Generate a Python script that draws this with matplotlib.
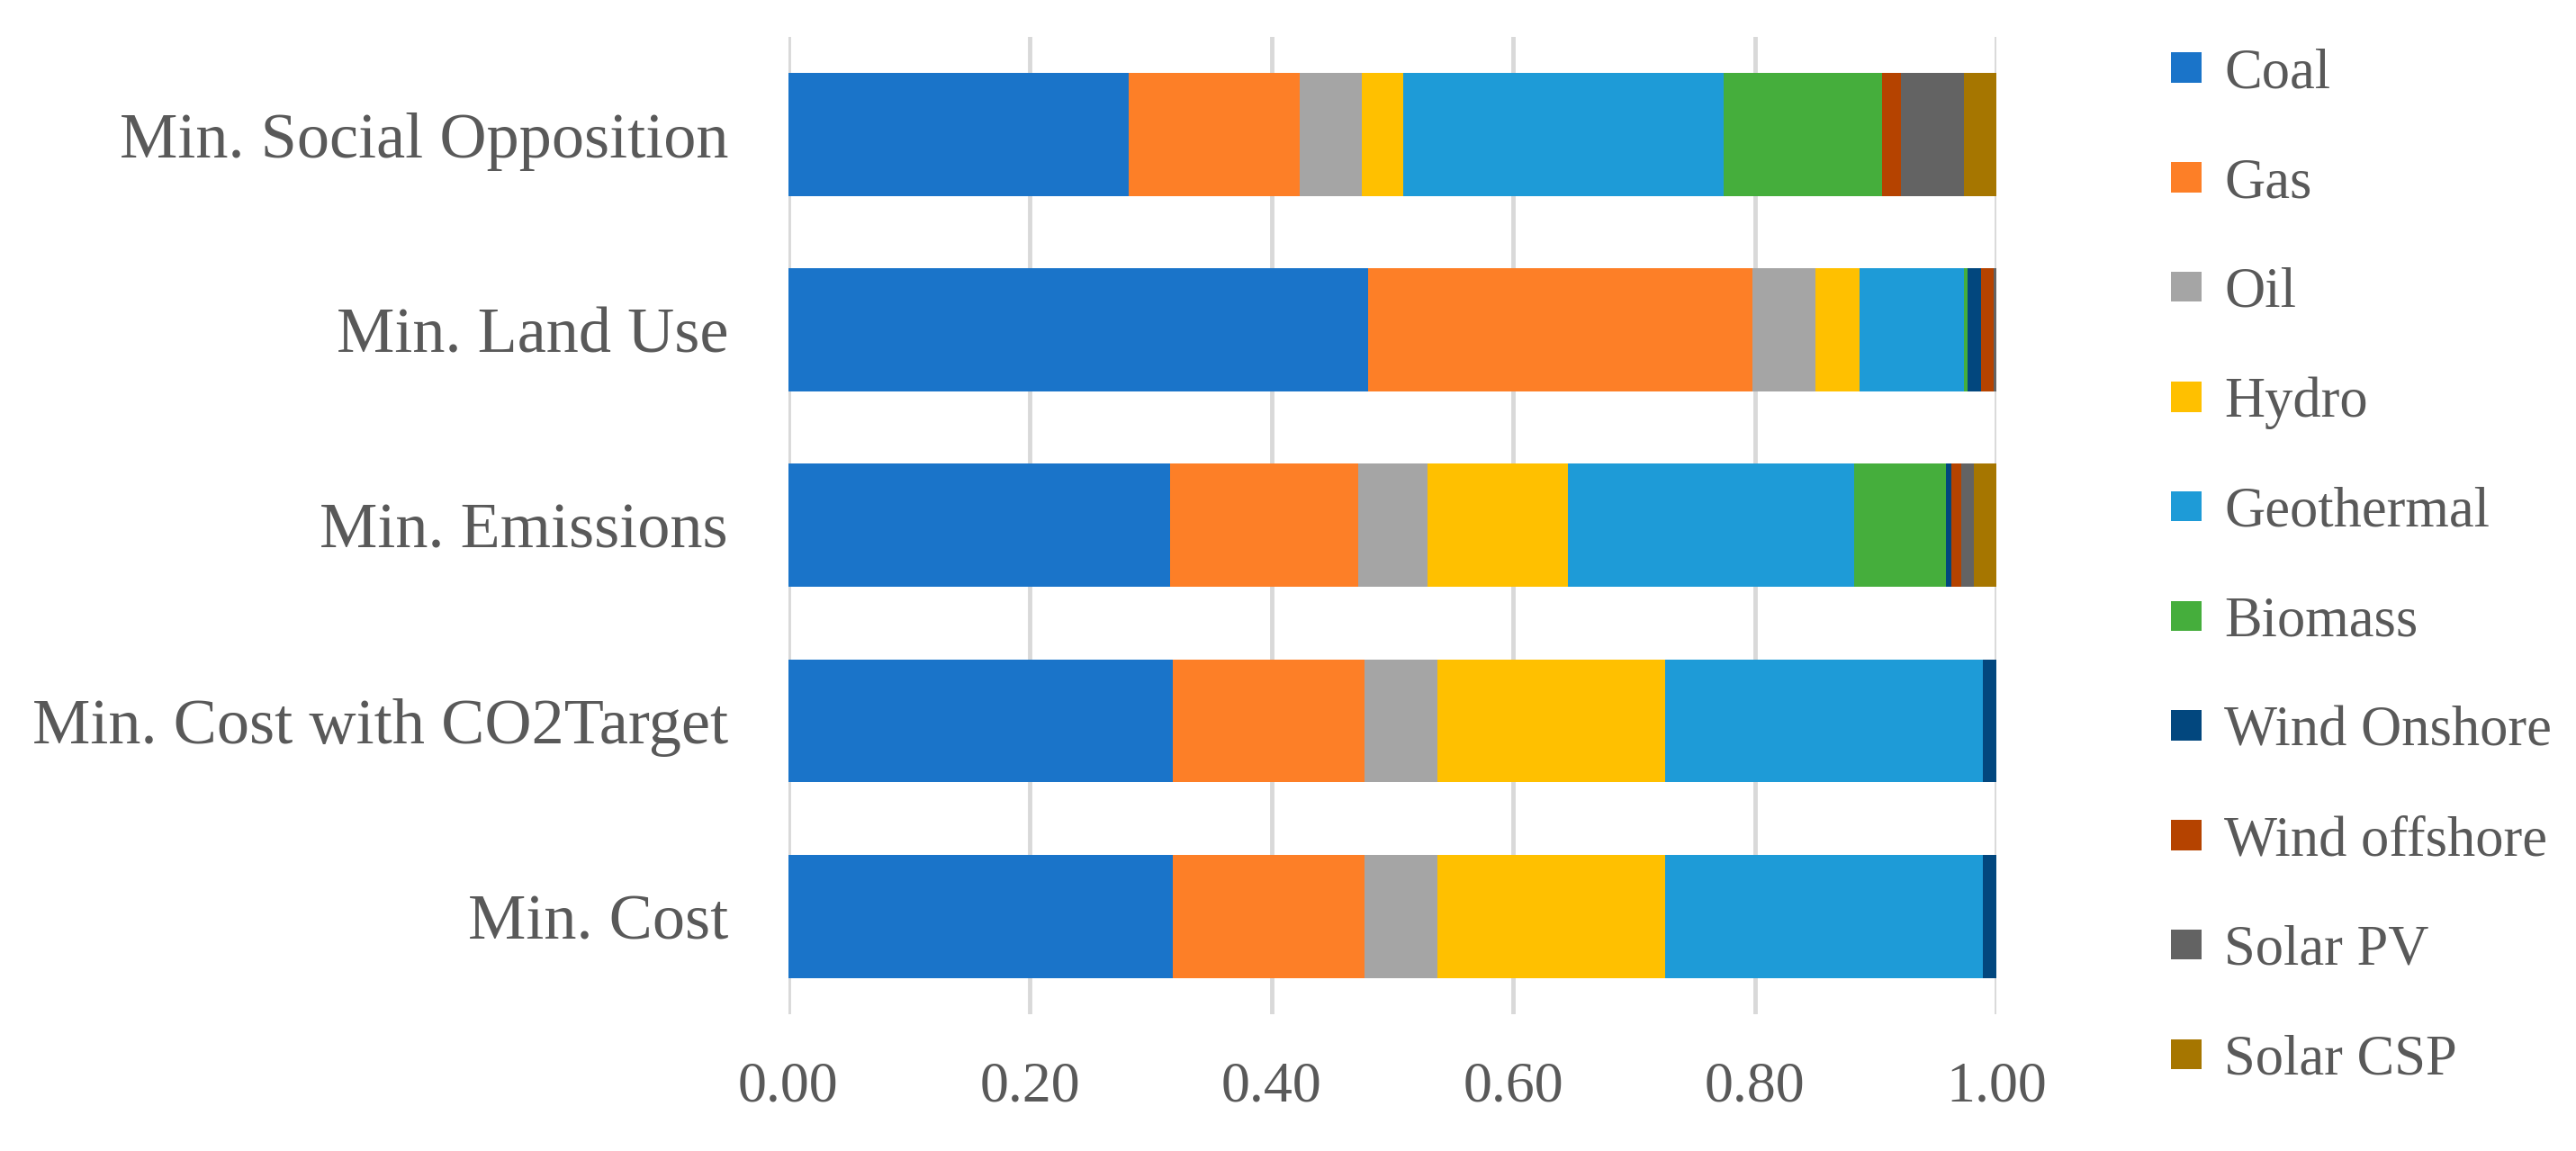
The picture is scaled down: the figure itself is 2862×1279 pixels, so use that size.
import matplotlib.pyplot as plt
import numpy as np

## Data (bottom to top)
scenarios = ["Min. Cost", "Min. Cost with CO2Target", "Min. Emissions",
             "Min. Land Use", "Min. Social Opposition"]
sources = ["Coal", "Gas", "Oil", "Hydro", "Geothermal", "Biomass",
           "Wind Onshore", "Wind offshore", "Solar PV", "Solar CSP"]

coal = [0.318, 0.318, 0.316, 0.480, 0.282]
gas = [0.159, 0.159, 0.156, 0.318, 0.141]
oil = [0.060, 0.060, 0.057, 0.052, 0.052]
hydro = [0.189, 0.189, 0.116, 0.037, 0.034]
geothermal = [0.263, 0.263, 0.237, 0.086, 0.265]
biomass = [0.0, 0.0, 0.076, 0.003, 0.131]
wind_onshore = [0.011, 0.011, 0.005, 0.011, 0.0]
wind_offshore = [0.0, 0.0, 0.008, 0.011, 0.016]
solar_pv = [0.0, 0.0, 0.010, 0.002, 0.052]
solar_csp = [0.0, 0.0, 0.019, 0.0, 0.027]

series = [coal, gas, oil, hydro, geothermal, biomass,
          wind_onshore, wind_offshore, solar_pv, solar_csp]
colors = ["#1a74c9", "#fd7f27", "#a5a5a5", "#ffc000", "#1e9bd7",
          "#45ae3c", "#02477e", "#b54300", "#636363", "#a67600"]

txt = "#595959"
plt.rcParams['font.family'] = ['Liberation Serif', 'DejaVu Serif']

fig = plt.figure(figsize=(28.62, 12.79), dpi=100)
ax = fig.add_axes([0.306, 0.119, 0.469, 0.849])

y = np.arange(len(scenarios))
left = np.zeros(len(scenarios))
handles = []
for name, vals, c in zip(sources, series, colors):
    b = ax.barh(y, vals, left=left, height=0.63, color=c, label=name, zorder=3)
    handles.append(b)
    left += np.array(vals)

ax.set_xlim(0, 1.0)
ax.set_ylim(-0.5, len(scenarios) - 0.5)
ax.set_xticks(np.arange(0, 1.01, 0.2))
ax.set_xticklabels([f"{v:.2f}" for v in np.arange(0, 1.01, 0.2)])
ax.set_yticks(y)
ax.set_yticklabels(scenarios)
ax.tick_params(axis='both', length=0, colors=txt)
ax.tick_params(axis='x', pad=38, labelsize=46)
ax.tick_params(axis='y', pad=48, labelsize=52)
ax.grid(axis='x', color="#d9d9d9", linewidth=3.5, zorder=0)
for s in ax.spines.values():
    s.set_visible(False)

leg = fig.legend(handles=handles, labels=sources, loc='center left',
                 bbox_to_anchor=(0.823, 0.507), frameon=False, fontsize=45,
                 labelspacing=1.02, handlelength=0.55, handleheight=0.45,
                 handletextpad=0.4, labelcolor=txt)

fig.savefig("out.png", dpi=100)
